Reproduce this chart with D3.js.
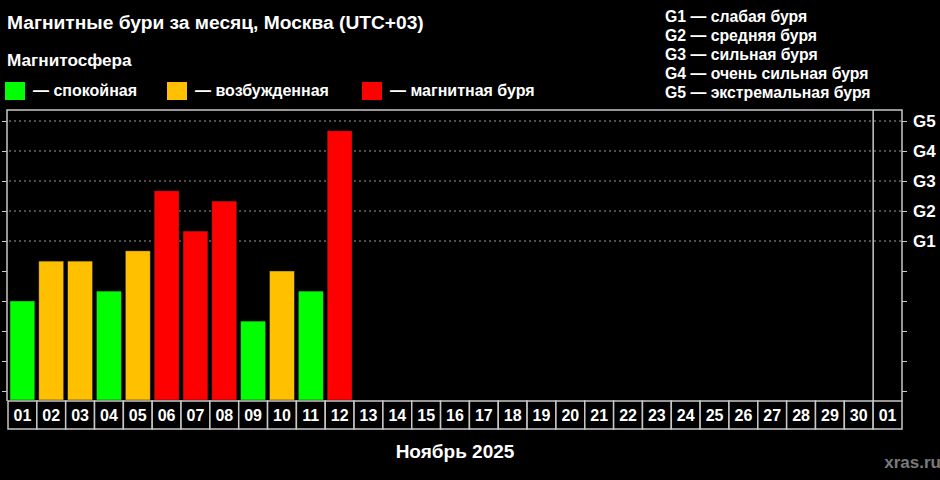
<!DOCTYPE html>
<html><head><meta charset="utf-8">
<script src="https://cdn.jsdelivr.net/npm/d3@7"></script>
<style>
html,body{margin:0;padding:0;background:#000;}
svg{display:block;font-family:"Liberation Sans",Arial,sans-serif;font-weight:bold;}
</style></head>
<body>
<svg id="chart" width="940" height="480"></svg>
<script>
const title = "Магнитные бури за месяц, Москва (UTC+03)";
const legendTitle = "Магнитосфера";
const legendItems = ["— спокойная", "— возбужденная", "— магнитная буря"];
const legendColors = ["#00ff00", "#ffc000", "#ff0000"];
const gLegend = ["G1 — слабая буря", "G2 — средняя буря", "G3 — сильная буря", "G4 — очень сильная буря", "G5 — экстремальная буря"];
const days = ["01","02","03","04","05","06","07","08","09","10","11","12","13","14","15","16","17","18","19","20","21","22","23","24","25","26","27","28","29","30","01 "];
const dayLabels = ["01","02","03","04","05","06","07","08","09","10","11","12","13","14","15","16","17","18","19","20","21","22","23","24","25","26","27","28","29","30","01"];
const kpValues = [3.0, 4.33, 4.33, 3.33, 4.67, 6.67, 5.33, 6.33, 2.33, 4.0, 3.33, 8.67];
const kpTicks = [0,1,2,3,4,5,6,7,8,9];
const gTickLabels = ["","","","","","G1","G2","G3","G4","G5"];
const monthLabel = "Ноябрь 2025";
const watermark = "xras.ru";

(function(){
const svg = d3.select("#chart");
svg.append("rect").attr("width",940).attr("height",480).attr("fill","#000");

const pL = 7, pR = 902, pT = 110, pB = 400, cellB = 429;
const x = d3.scaleBand().domain(days).range([8, pR]).padding(0);
const y = d3.scaleLinear().domain([-0.3, 9.3667]).range([pB, pT]);

function color(v){ return v < 4 ? legendColors[0] : (v < 5 ? legendColors[1] : legendColors[2]); }

// title & legends
svg.append("text").attr("x",7).attr("y",29).attr("fill","#fff").attr("font-size",19.2).text(title);
svg.append("text").attr("x",7).attr("y",66).attr("fill","#fff").attr("font-size",17.2).text(legendTitle);
const legX = [5, 167, 362];
legendItems.forEach((t,i)=>{
  svg.append("rect").attr("x",legX[i]).attr("y",82).attr("width",20).attr("height",18).attr("fill",legendColors[i]);
  svg.append("text").attr("x",legX[i]+28).attr("y",95.5).attr("fill","#fff").attr("font-size",16).text(t);
});
gLegend.forEach((t,i)=>{
  svg.append("text").attr("x",665).attr("y",22.3+i*18.9).attr("fill","#fff").attr("font-size",15.8).text(t);
});

// grid lines at G levels
svg.append("g").selectAll("line").data(kpTicks.filter(k=>k>=5)).join("line")
  .attr("x1",pL+2).attr("x2",pR).attr("y1",d=>y(d)).attr("y2",d=>y(d))
  .attr("stroke","#999").attr("stroke-width",1).attr("stroke-dasharray","2,3");

// bars
svg.append("g").selectAll("rect").data(kpValues).join("rect")
  .attr("x",(d,i)=>x(days[i])+2).attr("width",x.bandwidth()-4)
  .attr("y",d=>y(d)).attr("height",d=>y(-0.3)-y(d))
  .attr("fill",d=>color(d)).attr("stroke","#222").attr("stroke-width",0.5);

// frame
const frameColor = "#c8c8c8";
svg.append("path").attr("d",`M${pL},${pB+1}V${pT}H${pR}V${pB+1}`)
  .attr("fill","none").attr("stroke",frameColor).attr("stroke-width",1.5);
svg.append("line").attr("x1",x(days[30])).attr("x2",x(days[30])).attr("y1",pT).attr("y2",cellB)
  .attr("stroke",frameColor).attr("stroke-width",1.5);

// y axes
const yAxisL = d3.axisLeft(y).tickValues(kpTicks).tickSize(5).tickFormat("");
const gl = svg.append("g").attr("transform",`translate(${pL},0)`).call(yAxisL);
gl.select(".domain").remove();
gl.selectAll("line").attr("stroke",frameColor);
const yAxisR = d3.axisRight(y).tickValues(kpTicks).tickSize(5).tickPadding(6).tickFormat((d,i)=>gTickLabels[i]);
const gr = svg.append("g").attr("transform",`translate(${pR},0)`).call(yAxisR);
gr.select(".domain").remove();
gr.selectAll("line").attr("stroke",frameColor);
gr.selectAll("text").attr("fill","#fff").attr("font-size",17).attr("font-family","Liberation Sans, Arial, sans-serif").attr("font-weight","bold");

// day cells
const cells = svg.append("g").selectAll("g").data(days).join("g").attr("transform",d=>`translate(${x(d)},${pB+1})`);
cells.append("rect").attr("width",x.bandwidth()).attr("height",cellB-pB-1)
  .attr("fill","#000").attr("stroke",frameColor).attr("stroke-width",1.5);
cells.append("text").attr("x",x.bandwidth()/2).attr("y",19.7).attr("text-anchor","middle")
  .attr("fill","#fff").attr("font-size",16).text((d,i)=>dayLabels[i]);

svg.append("text").attr("x",(8+pR)/2).attr("y",458).attr("text-anchor","middle").attr("fill","#fff").attr("font-size",19).text(monthLabel);
svg.append("text").attr("x",941).attr("y",468).attr("text-anchor","end").attr("fill","#7a7a7a").attr("font-size",17).text(watermark);
})();
</script>
</body></html>
